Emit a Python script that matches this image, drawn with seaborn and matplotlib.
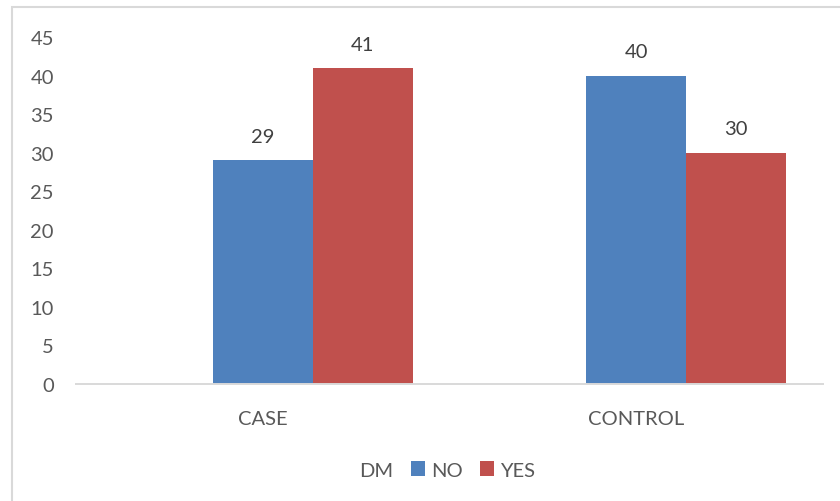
import matplotlib
matplotlib.use("Agg")
import matplotlib.pyplot as plt
from matplotlib.patches import Patch, Rectangle
import pandas as pd
import seaborn as sns

# Counts by group and diabetes status
groups = ["CASE", "CASE", "CONTROL", "CONTROL"]
dm_status = ["NO", "YES", "NO", "YES"]
counts = [29, 41, 40, 30]

# "DM" is an empty series that only appears in the legend
hue_levels = ["DM", "NO", "YES"]
colors = {"DM": "#FFFFFF", "NO": "#4F81BD", "YES": "#C0504D"}

y_ticks = [0, 5, 10, 15, 20, 25, 30, 35, 40, 45]

sns.set_theme(style="white")
plt.rcParams["font.family"] = ["Lato", "DejaVu Sans"]

df = pd.DataFrame({"group": groups, "DM": dm_status, "count": counts})

fig = plt.figure(figsize=(8.4, 5.02), dpi=100)
ax = fig.add_axes([76 / 840, 1 - 385 / 502, (823 - 76) / 840, (385 - 38) / 502])

sns.barplot(
    data=df, x="group", y="count", hue="DM", hue_order=hue_levels,
    order=["CASE", "CONTROL"], palette=colors, saturation=1, width=0.803,
    gap=0, linewidth=0, legend=False, ax=ax,
)

for cont in ax.containers:
    ax.bar_label(cont, fmt="%d", padding=11, fontsize=14.5, color="#404040")

ax.set_ylim(0, 45)
ax.set_yticks(y_ticks)
ax.set_xlabel("")
ax.set_ylabel("")
ax.tick_params(axis="y", length=0, pad=16, labelsize=14.5, labelcolor="#595959")
ax.tick_params(axis="x", length=0, pad=19, labelsize=14.5, labelcolor="#595959")
for side in ["top", "right", "left"]:
    ax.spines[side].set_visible(False)
ax.spines["bottom"].set_color("#D9D9D9")
ax.spines["bottom"].set_linewidth(1.4)
ax.grid(False)

# Legend: series name without a swatch, then the two coloured series
handles = [
    Patch(facecolor="none", edgecolor="none"),
    Patch(facecolor=colors["NO"], edgecolor="none"),
    Patch(facecolor=colors["YES"], edgecolor="none"),
]
fig.legend(
    handles, hue_levels, loc="center", bbox_to_anchor=(437 / 840, 1 - 471 / 502),
    ncol=3, frameon=False, fontsize=14.5, labelcolor="#595959",
    handlelength=0.7, handleheight=0.7, handletextpad=0.3, columnspacing=0.85,
)

# Chart-area outline
fig.patches.append(Rectangle(
    (12 / 840, -0.1), 1.0, 1.1 - 8 / 502, transform=fig.transFigure,
    fill=False, edgecolor="#D9D9D9", linewidth=1.5, zorder=0,
))

fig.savefig("out.png", dpi=100)
